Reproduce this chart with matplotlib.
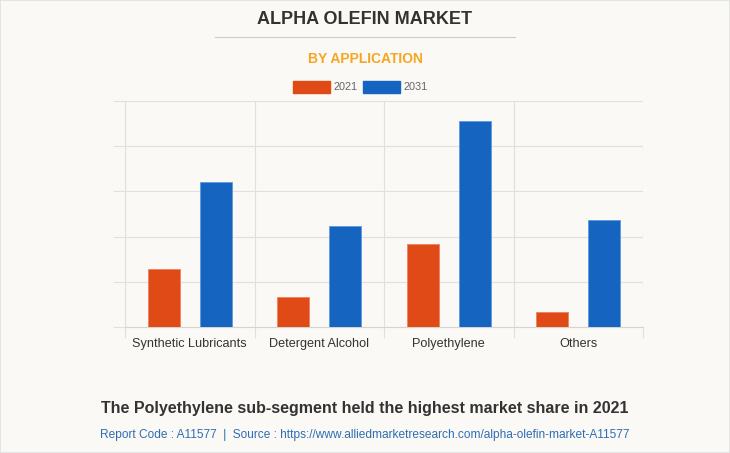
import matplotlib
matplotlib.use("Agg")
import matplotlib.pyplot as plt
import numpy as np
from matplotlib.patches import Rectangle
from matplotlib.lines import Line2D

plt.rcParams['font.family'] = ['Liberation Sans', 'DejaVu Sans']

categories = ["Synthetic Lubricants", "Detergent Alcohol", "Polyethylene", "Others"]
series_names = ["2021", "2031"]
values_2021 = [1.28, 0.66, 1.84, 0.33]
values_2031 = [3.21, 2.23, 4.56, 2.37]
colors = ["#e04a17", "#1565c0"]

bg = "#faf9f5"
grid_c = "#e2e0dc"

W, H = 730, 453
fig = plt.figure(figsize=(W/100, H/100), dpi=100, facecolor=bg)

ax = fig.add_axes([125/W, 1-327/H, (643-125)/W, (327-101)/H])
ax.set_facecolor(bg)
x = np.arange(len(categories))
bw = 0.247
off = 0.2
ax.bar(x - off, values_2021, bw, color=colors[0], zorder=3, edgecolor='#f08060', linewidth=0.6)
ax.bar(x + off, values_2031, bw, color=colors[1], zorder=3, edgecolor='#5a9ae0', linewidth=0.6)
ax.set_xlim(-0.5, len(categories) - 0.5)
ax.set_ylim(0, 5)
ax.set_yticks(np.arange(0, 6, 1))
ax.set_yticklabels([])
ax.set_xticks(np.arange(-0.5, len(categories), 1), minor=False)
ax.set_xticklabels([])
ax.set_xticks(x, minor=True)
ax.set_xticklabels(categories, minor=True, fontsize=9.1, color="#333333")
ax.tick_params(axis='x', which='minor', length=0, pad=8)
ax.tick_params(axis='x', which='major', length=8, color=grid_c, width=0.8)
ax.tick_params(axis='y', length=9, color=grid_c, width=0.8)
ax.grid(True, which='major', color=grid_c, linewidth=0.8, zorder=0)
for s in ['top', 'right']:
    ax.spines[s].set_visible(False)
ax.spines['left'].set_color(grid_c)
ax.spines['bottom'].set_color("#d6d4d0")
ax.spines['left'].set_linewidth(0.8)

# titles
fig.text(365/W, 1-20/H, "ALPHA OLEFIN MARKET", ha='center', va='center',
         fontsize=13, fontweight='bold', color="#333333")
fig.add_artist(Line2D([215/W, 515/W], [1-37/H, 1-37/H], color="#cccccc", linewidth=0.8))
fig.text(365/W, 1-59/H, "BY APPLICATION", ha='center', va='center',
         fontsize=10, fontweight='bold', color="#f5a623")

# legend
leg_items = [(293, series_names[0], colors[0]), (363, series_names[1], colors[1])]
for lx, lab, col in leg_items:
    fig.add_artist(Rectangle((lx/W, 1-93/H), 37/W, 12/H, color=col, transform=fig.transFigure))
    fig.text((lx+40)/W, 1-87/H, lab, ha='left', va='center', fontsize=7.8, color="#666666")

fig.text(365/W, 1-409/H, "The Polyethylene sub-segment held the highest market share in 2021",
         ha='center', va='center', fontsize=11.5, fontweight='bold', color="#333333")
fig.text(365/W, 1-435/H,
         "Report Code : A11577  |  Source : https://www.alliedmarketresearch.com/alpha-olefin-market-A11577",
         ha='center', va='center', fontsize=8.6, color="#2e6db4")

fig.add_artist(Rectangle((0, 0), 1, 1, fill=False, edgecolor="#e0e0e0", linewidth=1.2,
                         transform=fig.transFigure))

fig.savefig("out.png", dpi=100, facecolor=bg)
